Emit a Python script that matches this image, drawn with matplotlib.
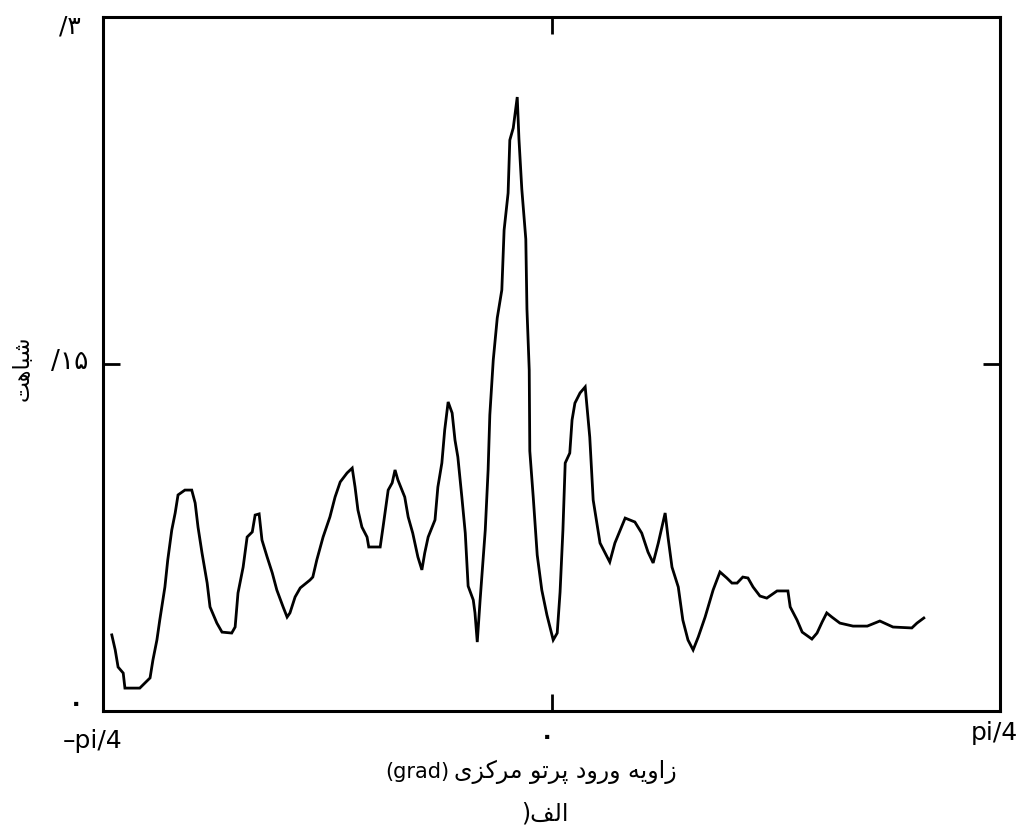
import matplotlib
matplotlib.use("Agg")
import matplotlib.pyplot as plt
import numpy as np

# ---- data (angle in radians, similarity) ----
angle = [-0.770, -0.764, -0.759, -0.750, -0.747, -0.721, -0.703, -0.698, -0.691, -0.686,
         -0.677, -0.672, -0.665, -0.659, -0.654, -0.642, -0.630, -0.624, -0.619, -0.612,
         -0.603, -0.598, -0.586, -0.577, -0.560, -0.554, -0.549, -0.540, -0.533, -0.524,
         -0.519, -0.512, -0.507, -0.498, -0.489, -0.481, -0.470, -0.463, -0.458, -0.449,
         -0.440, -0.423, -0.418, -0.411, -0.400, -0.388, -0.379, -0.370, -0.358, -0.349,
         -0.344, -0.339, -0.332, -0.323, -0.320, -0.300, -0.295, -0.286, -0.279, -0.274,
         -0.269, -0.257, -0.251, -0.243, -0.234, -0.227, -0.222, -0.216, -0.204, -0.199,
         -0.192, -0.187, -0.181, -0.174, -0.169, -0.164, -0.157, -0.151, -0.146, -0.137,
         -0.134, -0.130, -0.125, -0.116, -0.111, -0.108, -0.102, -0.095, -0.087, -0.083,
         -0.076, -0.073, -0.067, -0.060, -0.057, -0.052, -0.045, -0.043, -0.039, -0.038,
         -0.032, -0.025, -0.017, -0.008, 0.003, 0.010, 0.015, 0.020, 0.024, 0.032,
         0.036, 0.041, 0.050, 0.059, 0.067, 0.073, 0.085, 0.102, 0.111, 0.129,
         0.146, 0.158, 0.169, 0.178, 0.187, 0.199, 0.204, 0.211, 0.222, 0.230,
         0.239, 0.248, 0.257, 0.269, 0.283, 0.295, 0.307, 0.316, 0.325, 0.335,
         0.344, 0.353, 0.365, 0.377, 0.395, 0.414, 0.418, 0.430, 0.439, 0.456,
         0.465, 0.474, 0.482, 0.491, 0.505, 0.528, 0.553, 0.575, 0.598, 0.631,
         0.640, 0.652]
similarity = [0.0329, 0.0264, 0.0190, 0.0164, 0.0099, 0.0099, 0.0143, 0.0220, 0.0307, 0.0393,
              0.0536, 0.0653, 0.0782, 0.0856, 0.0934, 0.0955, 0.0955, 0.0899, 0.0795, 0.0683,
              0.0553, 0.0450, 0.0380, 0.0341, 0.0337, 0.0363, 0.0510, 0.0622, 0.0752, 0.0774,
              0.0847, 0.0852, 0.0739, 0.0666, 0.0597, 0.0523, 0.0450, 0.0406, 0.0424, 0.0493,
              0.0532, 0.0566, 0.0579, 0.0653, 0.0752, 0.0839, 0.0925, 0.0990, 0.1029, 0.1050,
              0.0968, 0.0869, 0.0795, 0.0752, 0.0709, 0.0709, 0.0795, 0.0955, 0.0986, 0.1042,
              0.0999, 0.0925, 0.0839, 0.0769, 0.0666, 0.0610, 0.0683, 0.0752, 0.0826, 0.0968,
              0.1072, 0.1215, 0.1336, 0.1288, 0.1171, 0.1098, 0.0925, 0.0769, 0.0540, 0.0480,
              0.0424, 0.0298, 0.0480, 0.0782, 0.1042, 0.1280, 0.1517, 0.1699, 0.1820, 0.2079,
              0.2239, 0.2468, 0.2520, 0.2654, 0.2473, 0.2256, 0.2040, 0.1738, 0.1474, 0.1124,
              0.0925, 0.0674, 0.0523, 0.0415, 0.0307, 0.0337, 0.0514, 0.0782, 0.1072, 0.1115,
              0.1258, 0.1331, 0.1375, 0.1401, 0.1184, 0.0912, 0.0726, 0.0644, 0.0726, 0.0834,
              0.0817, 0.0769, 0.0687, 0.0640, 0.0726, 0.0856, 0.0752, 0.0622, 0.0536, 0.0393,
              0.0307, 0.0264, 0.0320, 0.0406, 0.0523, 0.0601, 0.0575, 0.0553, 0.0553, 0.0579,
              0.0575, 0.0536, 0.0497, 0.0488, 0.0519, 0.0519, 0.0450, 0.0393, 0.0341, 0.0311,
              0.0337, 0.0385, 0.0424, 0.0406, 0.0380, 0.0367, 0.0367, 0.0389, 0.0363, 0.0359,
              0.0380, 0.0402]

# tick labels (Persian digits, visual order)
ytick_labels = ["\u06F0", "/\u06F1\u06F5", "/\u06F3"]
xtick_labels = ["\u2013pi/4", "\u06F0", "pi/4"]

# Persian texts in visual (shaped, left-to-right) order
ylabel_txt = "\uFE96\uFEEB\uFE8E\uFE92\uFEB7"  # شباهت
xlabel_fa = ("\u06CC\uFEB0\uFB90\uFEAE\uFEE3" + " " + "\uFEEE\uFE97\uFEAE\uFB58"
             + " " + "\uFEA9\uFEED\uFEAD\uFEED" + " " + "\uFEEA\uFEF3\uFEED\uFE8D\uFEAF")
xlabel_unit = "(grad)"
caption_txt = ")" + "\uFED2\uFEDF\uFE8D"  # الف)

W, H = 1022, 832
fig = plt.figure(figsize=(W / 100, H / 100), dpi=100)
ax = fig.add_axes([103 / W, 1 - 711 / H, 897 / W, 694 / H])
ax.plot(angle, similarity, color="black", lw=2.0, solid_joinstyle="miter")
ax.set_xlim(-np.pi / 4, np.pi / 4)
ax.set_ylim(0, 0.3)
for s in ax.spines.values():
    s.set_linewidth(2.2)
ax.set_xticks([0])
ax.set_yticks([0.15])
ax.tick_params(axis="both", direction="in", length=12, width=2.0,
               labelbottom=False, labelleft=False, top=True, right=True)


def ftxt(px, py, s, **kw):
    fig.text(px / W, 1 - py / H, s, ha="center", va="center", **kw)


fam = ["DejaVu Sans"]
ftxt(70, 27, ytick_labels[2], fontsize=18, family=fam)
ftxt(70, 362, ytick_labels[1], fontsize=19, family=fam)
ftxt(76, 704, ytick_labels[0], fontsize=17, family=fam, fontweight="bold")
ftxt(93, 741, xtick_labels[0], fontsize=18, family=fam)
ftxt(547, 737, xtick_labels[1], fontsize=17, family=fam, fontweight="bold")
ftxt(994, 733, xtick_labels[2], fontsize=18, family=fam)
ftxt(23, 368, ylabel_txt, fontsize=16, family=fam, rotation=90)
ftxt(565, 772, xlabel_fa, fontsize=17, family=fam)
ftxt(417, 772, xlabel_unit, fontsize=15, family=fam)
ftxt(545, 814, caption_txt, fontsize=17, family=fam)

fig.savefig("out.png", dpi=100)
